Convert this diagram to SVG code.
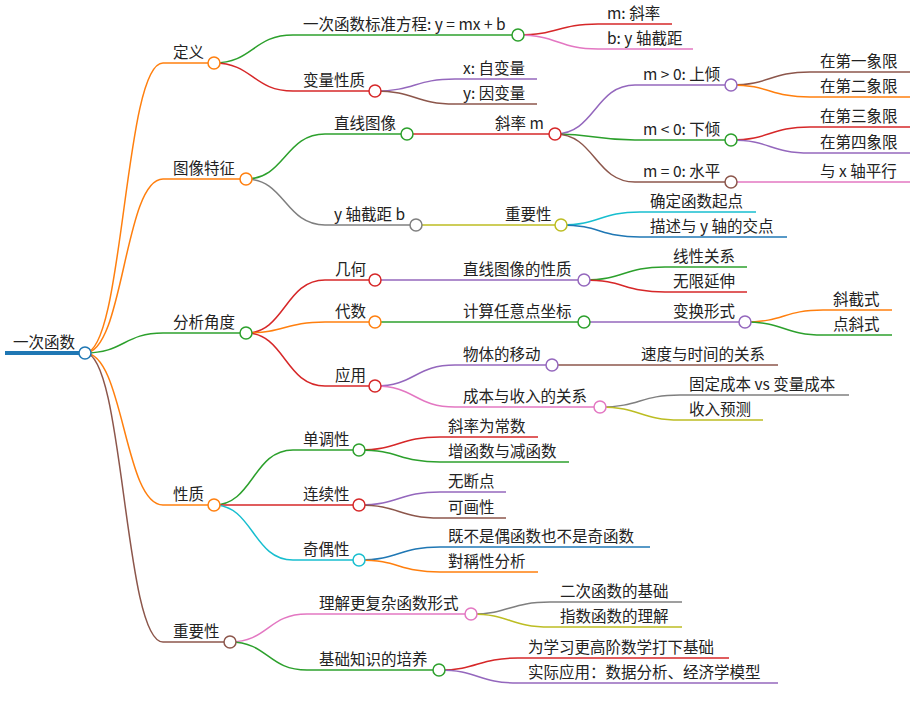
<svg xmlns="http://www.w3.org/2000/svg" width="915" height="705" viewBox="0 0 915 705">
<style>
text{font-family:"Noto Sans CJK SC","Noto Sans",sans-serif;font-size:15.5px;fill:#222}
path,line{fill:none;stroke-width:1.5}
circle{fill:#fff;stroke-width:1.5}
.blue{stroke:#1f77b4}.orange{stroke:#ff7f0e}.green{stroke:#2ca02c}.red{stroke:#d62728}.purple{stroke:#9467bd}.brown{stroke:#8c564b}.pink{stroke:#e377c2}.gray{stroke:#7f7f7f}.olive{stroke:#bcbd22}.cyan{stroke:#17becf}
</style>
<rect width="915" height="705" fill="#fff"/>
<g id="connectors">
<path class="orange" d="M85,353 C124,353 124,63 163,63"/>
<path class="orange" d="M85,353 C124,353 124,179 163,179"/>
<path class="green" d="M85,353 C124,353 124,333 163,333"/>
<path class="orange" d="M85,353 C124,353 124,505 163,505"/>
<path class="brown" d="M85,353 C124,353 124,642 163,642"/>
<path class="green" d="M214,63 C253,63 253,35 293,35"/>
<path class="red" d="M214,63 C253,63 253,91 293,91"/>
<path class="red" d="M518,35 C558,35 558,24 598,24"/>
<path class="pink" d="M518,35 C558,35 558,49 598,49"/>
<path class="purple" d="M375,91 C415,91 415,79 455,79"/>
<path class="brown" d="M375,91 C415,91 415,104 455,104"/>
<path class="green" d="M246,179 C285,179 285,134 325,134"/>
<path class="gray" d="M246,179 C285,179 285,225 325,225"/>
<path class="red" d="M407,134 L487,134"/>
<path class="purple" d="M555,134 C595,134 595,85 635,85"/>
<path class="green" d="M555,134 C595,134 595,140 635,140"/>
<path class="brown" d="M555,134 C595,134 595,182 635,182"/>
<path class="brown" d="M731,85 C770,85 770,72 810,72"/>
<path class="orange" d="M731,85 C770,85 770,97 810,97"/>
<path class="red" d="M731,140 C770,140 770,127 810,127"/>
<path class="purple" d="M731,140 C770,140 770,153 810,153"/>
<path class="pink" d="M731,182 L810,182"/>
<path class="olive" d="M416,225 L497,225"/>
<path class="cyan" d="M561,225 C600,225 600,212 640,212"/>
<path class="blue" d="M561,225 C600,225 600,237 640,237"/>
<path class="red" d="M246,333 C285,333 285,280 325,280"/>
<path class="orange" d="M246,333 C285,333 285,322 325,322"/>
<path class="red" d="M246,333 C285,333 285,386 325,386"/>
<path class="purple" d="M375,280 L455,280"/>
<path class="green" d="M584,280 C624,280 624,267 665,267"/>
<path class="red" d="M584,280 C624,280 624,292 665,292"/>
<path class="green" d="M375,322 L455,322"/>
<path class="purple" d="M584,322 L665,322"/>
<path class="orange" d="M745,322 C784,322 784,310 823,310"/>
<path class="green" d="M745,322 C784,322 784,335 823,335"/>
<path class="purple" d="M375,386 C415,386 415,365 455,365"/>
<path class="pink" d="M375,386 C415,386 415,407 455,407"/>
<path class="brown" d="M552,365 L632,365"/>
<path class="gray" d="M600,407 C640,407 640,395 680,395"/>
<path class="olive" d="M600,407 C640,407 640,420 680,420"/>
<path class="green" d="M214,505 C253,505 253,450 293,450"/>
<path class="red" d="M214,505 L293,505"/>
<path class="cyan" d="M214,505 C253,505 253,560 293,560"/>
<path class="red" d="M359,450 C399,450 399,437 440,437"/>
<path class="green" d="M359,450 C399,450 399,462 440,462"/>
<path class="purple" d="M359,505 C399,505 399,492 440,492"/>
<path class="brown" d="M359,505 C399,505 399,518 440,518"/>
<path class="blue" d="M359,560 C399,560 399,547 440,547"/>
<path class="orange" d="M359,560 C399,560 399,572 440,572"/>
<path class="pink" d="M230,642 C268,642 268,614 307,614"/>
<path class="green" d="M230,642 C268,642 268,670 307,670"/>
<path class="gray" d="M471,614 C510,614 510,602 550,602"/>
<path class="olive" d="M471,614 C510,614 510,627 550,627"/>
<path class="red" d="M439,670 C478,670 478,658 518,658"/>
<path class="purple" d="M439,670 C478,670 478,683 518,683"/>
</g>
<g id="n0"><line class="blue" x1="5" y1="353" x2="85" y2="353" style="stroke-width:4"/><circle class="blue" cx="85" cy="353" r="6"/><text x="13" y="348">一次函数</text></g>
<g id="n1"><line class="orange" x1="163" y1="63" x2="214" y2="63"/><circle class="orange" cx="214" cy="63" r="6"/><text x="173" y="58">定义</text></g>
<g id="n2"><line class="orange" x1="163" y1="179" x2="246" y2="179"/><circle class="orange" cx="246" cy="179" r="6"/><text x="173" y="174">图像特征</text></g>
<g id="n3"><line class="green" x1="163" y1="333" x2="246" y2="333"/><circle class="green" cx="246" cy="333" r="6"/><text x="173" y="328">分析角度</text></g>
<g id="n4"><line class="orange" x1="163" y1="505" x2="214" y2="505"/><circle class="orange" cx="214" cy="505" r="6"/><text x="173" y="500">性质</text></g>
<g id="n5"><line class="brown" x1="163" y1="642" x2="230" y2="642"/><circle class="brown" cx="230" cy="642" r="6"/><text x="173" y="637">重要性</text></g>
<g id="n1a"><line class="green" x1="293" y1="35" x2="518" y2="35"/><circle class="green" cx="518" cy="35" r="6"/><text x="303" y="30">一次函数标准方程: y = mx + b</text></g>
<g id="n1b"><line class="red" x1="293" y1="91" x2="375" y2="91"/><circle class="red" cx="375" cy="91" r="6"/><text x="303" y="86">变量性质</text></g>
<g id="n1a1"><line class="red" x1="598" y1="24" x2="672" y2="24"/><text x="607" y="19">m: 斜率</text></g>
<g id="n1a2"><line class="pink" x1="598" y1="49" x2="693" y2="49"/><text x="607" y="44">b: y 轴截距</text></g>
<g id="n1b1"><line class="purple" x1="455" y1="79" x2="537" y2="79"/><text x="463" y="74">x: 自变量</text></g>
<g id="n1b2"><line class="brown" x1="455" y1="104" x2="537" y2="104"/><text x="463" y="99">y: 因变量</text></g>
<g id="n2a"><line class="green" x1="325" y1="134" x2="407" y2="134"/><circle class="green" cx="407" cy="134" r="6"/><text x="334" y="129">直线图像</text></g>
<g id="n2b"><line class="gray" x1="325" y1="225" x2="416" y2="225"/><circle class="gray" cx="416" cy="225" r="6"/><text x="334" y="220">y 轴截距 b</text></g>
<g id="n2a1"><line class="red" x1="487" y1="134" x2="555" y2="134"/><circle class="red" cx="555" cy="134" r="6"/><text x="495" y="129">斜率 m</text></g>
<g id="n2a1a"><line class="purple" x1="635" y1="85" x2="731" y2="85"/><circle class="purple" cx="731" cy="85" r="6"/><text x="643" y="80">m &gt; 0: 上倾</text></g>
<g id="n2a1b"><line class="green" x1="635" y1="140" x2="731" y2="140"/><circle class="green" cx="731" cy="140" r="6"/><text x="643" y="135">m &lt; 0: 下倾</text></g>
<g id="n2a1c"><line class="brown" x1="635" y1="182" x2="731" y2="182"/><circle class="brown" cx="731" cy="182" r="6"/><text x="643" y="177">m = 0: 水平</text></g>
<g id="q1"><line class="brown" x1="810" y1="72" x2="910" y2="72"/><text x="820" y="67">在第一象限</text></g>
<g id="q2"><line class="orange" x1="810" y1="97" x2="910" y2="97"/><text x="820" y="92">在第二象限</text></g>
<g id="q3"><line class="red" x1="810" y1="127" x2="910" y2="127"/><text x="820" y="122">在第三象限</text></g>
<g id="q4"><line class="purple" x1="810" y1="153" x2="910" y2="153"/><text x="820" y="148">在第四象限</text></g>
<g id="q5"><line class="pink" x1="810" y1="182" x2="910" y2="182"/><text x="820" y="177">与 x 轴平行</text></g>
<g id="n2b1"><line class="olive" x1="497" y1="225" x2="561" y2="225"/><circle class="olive" cx="561" cy="225" r="6"/><text x="505" y="220">重要性</text></g>
<g id="n2b1a"><line class="cyan" x1="640" y1="212" x2="756" y2="212"/><text x="650" y="207">确定函数起点</text></g>
<g id="n2b1b"><line class="blue" x1="640" y1="237" x2="787" y2="237"/><text x="650" y="232">描述与 y 轴的交点</text></g>
<g id="n3a"><line class="red" x1="325" y1="280" x2="375" y2="280"/><circle class="red" cx="375" cy="280" r="6"/><text x="335" y="275">几何</text></g>
<g id="n3b"><line class="orange" x1="325" y1="322" x2="375" y2="322"/><circle class="orange" cx="375" cy="322" r="6"/><text x="335" y="317">代数</text></g>
<g id="n3c"><line class="red" x1="325" y1="386" x2="375" y2="386"/><circle class="red" cx="375" cy="386" r="6"/><text x="335" y="381">应用</text></g>
<g id="n3a1"><line class="purple" x1="455" y1="280" x2="584" y2="280"/><circle class="purple" cx="584" cy="280" r="6"/><text x="463" y="275">直线图像的性质</text></g>
<g id="n3a1a"><line class="green" x1="665" y1="267" x2="747" y2="267"/><text x="673" y="262">线性关系</text></g>
<g id="n3a1b"><line class="red" x1="665" y1="292" x2="747" y2="292"/><text x="673" y="287">无限延伸</text></g>
<g id="n3b1"><line class="green" x1="455" y1="322" x2="584" y2="322"/><circle class="green" cx="584" cy="322" r="6"/><text x="463" y="317">计算任意点坐标</text></g>
<g id="n3b1a"><line class="purple" x1="665" y1="322" x2="745" y2="322"/><circle class="purple" cx="745" cy="322" r="6"/><text x="673" y="317">变换形式</text></g>
<g id="n3b1a1"><line class="orange" x1="823" y1="310" x2="892" y2="310"/><text x="833" y="305">斜截式</text></g>
<g id="n3b1a2"><line class="green" x1="823" y1="335" x2="892" y2="335"/><text x="833" y="330">点斜式</text></g>
<g id="n3c1"><line class="purple" x1="455" y1="365" x2="552" y2="365"/><circle class="purple" cx="552" cy="365" r="6"/><text x="463" y="360">物体的移动</text></g>
<g id="n3c1a"><line class="brown" x1="632" y1="365" x2="778" y2="365"/><text x="641" y="360">速度与时间的关系</text></g>
<g id="n3c2"><line class="pink" x1="455" y1="407" x2="600" y2="407"/><circle class="pink" cx="600" cy="407" r="6"/><text x="463" y="402">成本与收入的关系</text></g>
<g id="n3c2a"><line class="gray" x1="680" y1="395" x2="849" y2="395"/><text x="689" y="390">固定成本 vs 变量成本</text></g>
<g id="n3c2b"><line class="olive" x1="680" y1="420" x2="763" y2="420"/><text x="689" y="415">收入预测</text></g>
<g id="n4a"><line class="green" x1="293" y1="450" x2="359" y2="450"/><circle class="green" cx="359" cy="450" r="6"/><text x="303" y="445">单调性</text></g>
<g id="n4b"><line class="red" x1="293" y1="505" x2="359" y2="505"/><circle class="red" cx="359" cy="505" r="6"/><text x="303" y="500">连续性</text></g>
<g id="n4c"><line class="cyan" x1="293" y1="560" x2="359" y2="560"/><circle class="cyan" cx="359" cy="560" r="6"/><text x="303" y="555">奇偶性</text></g>
<g id="n4a1"><line class="red" x1="440" y1="437" x2="538" y2="437"/><text x="448" y="432">斜率为常数</text></g>
<g id="n4a2"><line class="green" x1="440" y1="462" x2="569" y2="462"/><text x="448" y="457">增函数与减函数</text></g>
<g id="n4b1"><line class="purple" x1="440" y1="492" x2="506" y2="492"/><text x="448" y="487">无断点</text></g>
<g id="n4b2"><line class="brown" x1="440" y1="518" x2="506" y2="518"/><text x="448" y="513">可画性</text></g>
<g id="n4c1"><line class="blue" x1="440" y1="547" x2="650" y2="547"/><text x="448" y="542">既不是偶函数也不是奇函数</text></g>
<g id="n4c2"><line class="orange" x1="440" y1="572" x2="538" y2="572"/><text x="448" y="567">對稱性分析</text></g>
<g id="n5a"><line class="pink" x1="307" y1="614" x2="471" y2="614"/><circle class="pink" cx="471" cy="614" r="6"/><text x="319" y="609">理解更复杂函数形式</text></g>
<g id="n5b"><line class="green" x1="307" y1="670" x2="439" y2="670"/><circle class="green" cx="439" cy="670" r="6"/><text x="319" y="665">基础知识的培养</text></g>
<g id="n5a1"><line class="gray" x1="550" y1="602" x2="682" y2="602"/><text x="560" y="597">二次函数的基础</text></g>
<g id="n5a2"><line class="olive" x1="550" y1="627" x2="682" y2="627"/><text x="560" y="622">指数函数的理解</text></g>
<g id="n5b1"><line class="red" x1="518" y1="658" x2="729" y2="658"/><text x="528" y="653">为学习更高阶数学打下基础</text></g>
<g id="n5b2"><line class="purple" x1="518" y1="683" x2="778" y2="683"/><text x="528" y="678">实际应用：数据分析、经济学模型</text></g>
</svg>
